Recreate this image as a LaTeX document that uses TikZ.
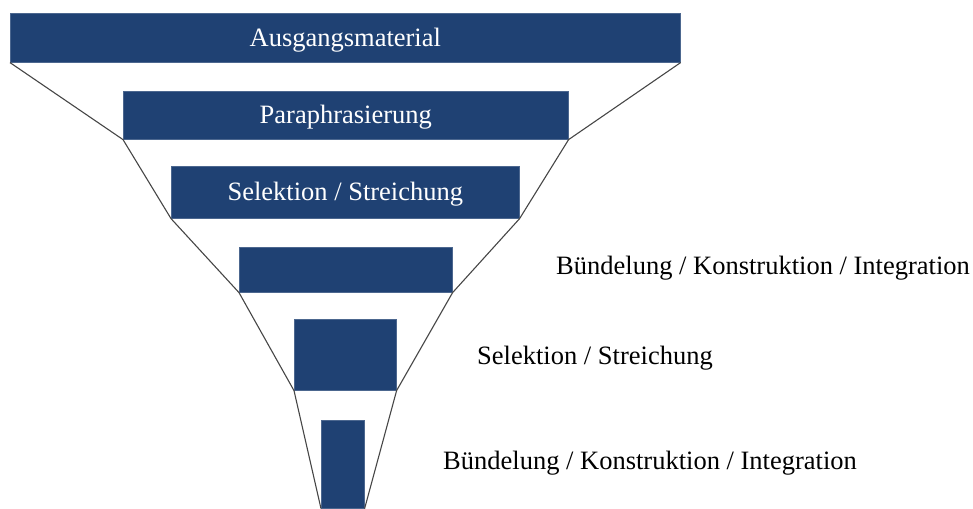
\documentclass[tikz,border=0pt]{standalone}
\usepackage{fontspec}
\setmainfont{Liberation Serif}
\usepackage{xcolor}
\definecolor{funnelblue}{RGB}{31,65,115}
\definecolor{funnelline}{RGB}{70,70,70}
\tikzset{
	stage/.style={
			draw=funnelblue!80!white, line width=0.6pt, fill=funnelblue, text=white,
			inner sep=0pt, anchor=north west, text height=20pt, text depth=3pt,
			font=\fontsize{26.5}{30}\selectfont
		},
	steplabel/.style={
			anchor=west, inner sep=0pt,
			font=\fontsize{26.5}{30}\selectfont
		},
	rim/.style={draw=funnelline, line width=1.1pt}
}
\begin{document}
\begin{tikzpicture}[x=1pt,y=-1pt]
			\useasboundingbox (0,0) rectangle (973,508);

			% stufen des trichters
			\node[stage, minimum width=670pt, minimum height=49pt] (s1) at (10,13) {Ausgangsmaterial};
			\node[stage, minimum width=445pt, minimum height=48pt] (s2) at (123,91) {Paraphrasierung};
			\node[stage, minimum width=348pt, minimum height=52pt] (s3) at (171,166) {Selektion / Streichung};
			\node[stage, minimum width=213pt, minimum height=45pt] (s4) at (239,247) {};
			\node[stage, minimum width=102pt, minimum height=71pt] (s5) at (294,319) {};
			\node[stage, minimum width=43pt, minimum height=88pt] (s6) at (321,420) {};

			% beschriftungen rechts
			\node[steplabel] (l4) at (556,268) {Bündelung / Konstruktion / Integration};
			\node[steplabel] (l5) at (477,358) {Selektion / Streichung};
			\node[steplabel] (l6) at (443,463) {Bündelung / Konstruktion / Integration};

			% trichterrand
			\draw[rim] (s1.south west) -- (s2.south west) -- (s3.south west) -- (s4.south west) -- (s5.south west) -- (s6.south west);
			\draw[rim] (s1.south east) -- (s2.south east) -- (s3.south east) -- (s4.south east) -- (s5.south east) -- (s6.south east);
		\end{tikzpicture}
\end{document}
